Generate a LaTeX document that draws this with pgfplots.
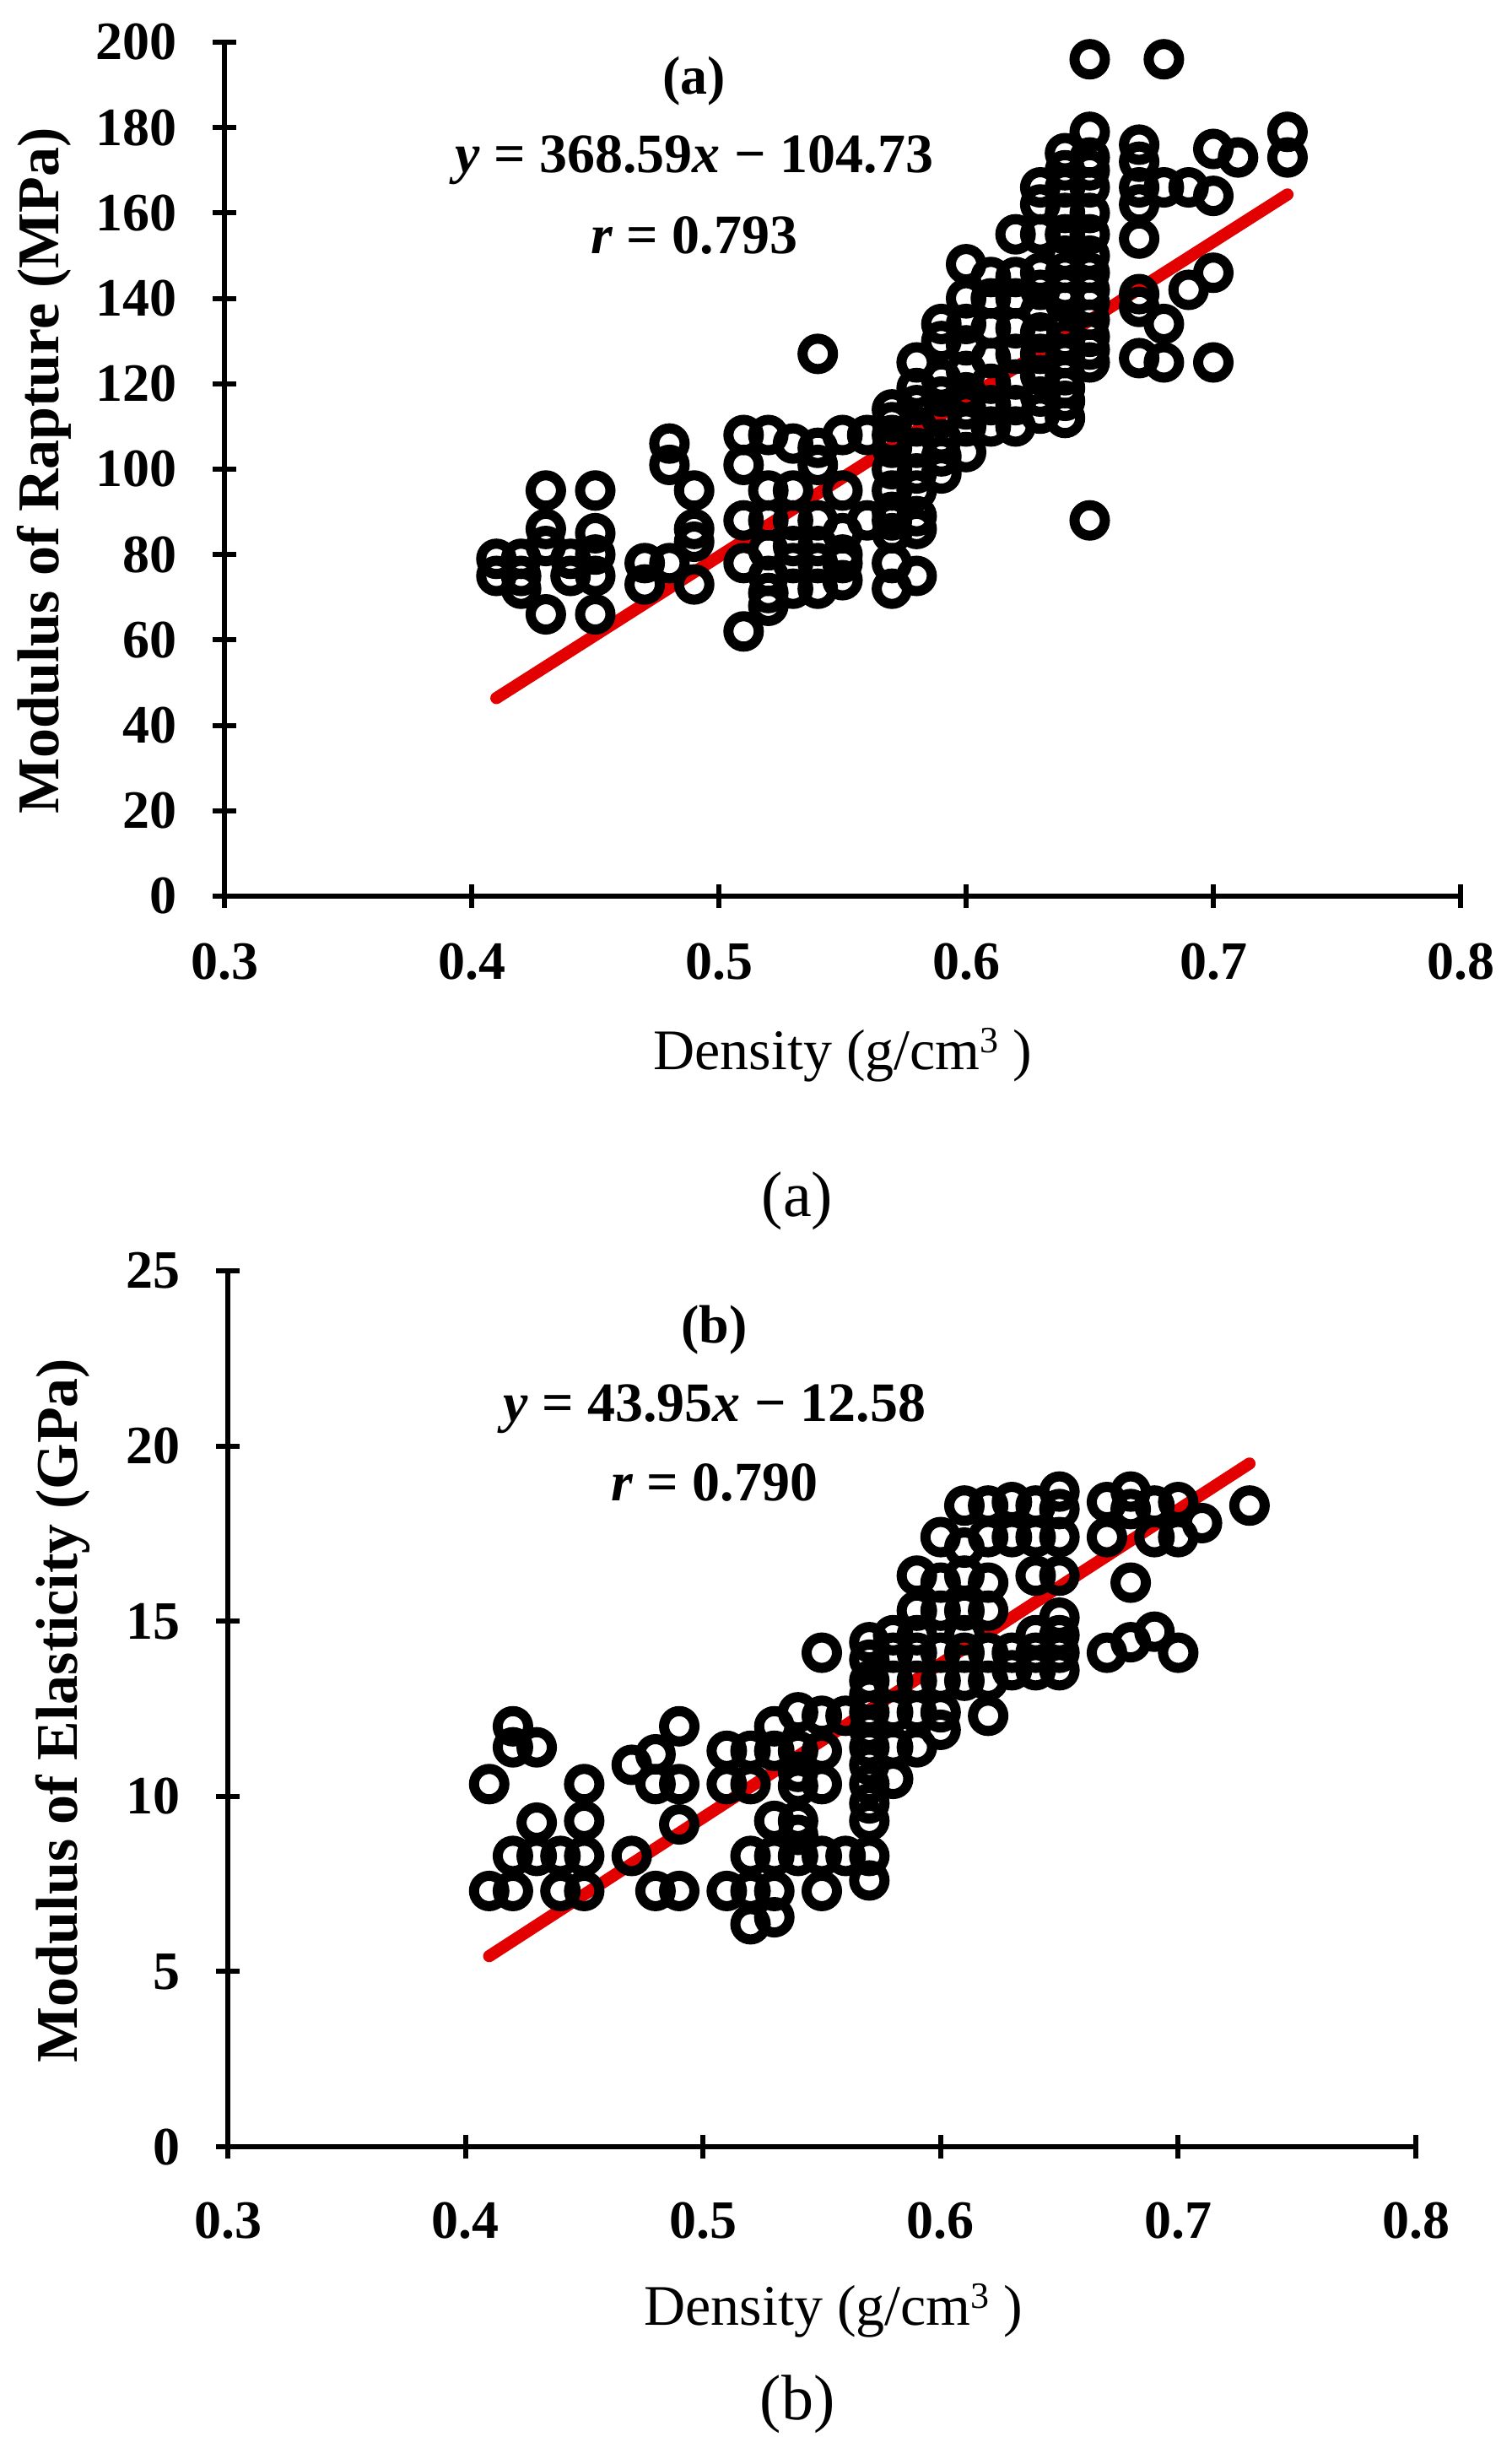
\documentclass[border=0pt]{standalone}
\usepackage{fontspec}
\setmainfont{Liberation Serif}
\usepackage{pgfplots}
\pgfplotsset{compat=1.18}
\definecolor{fitred}{RGB}{226,0,0}
\newcommand{\cube}{\raisebox{0.3em}{\fontsize{11}{11}\selectfont 3}}
\pgfplotsset{
  mystyle/.style={
    scale only axis,
    axis x line*=bottom, axis y line*=left,
    axis line style={line width=1.5pt, black},
    tick style={line width=1.5pt, black},
    major tick length=7pt,
    tick align=center,
    xmin=0.3, xmax=0.8,
    xtick={0.3,0.4,0.5,0.6,0.7,0.8},
    xticklabels={0.3,0.4,0.5,0.6,0.7,0.8},
    tick label style={font=\fontsize{16}{16}\selectfont\bfseries},
    /pgf/number format/assume math mode=true,
    yticklabel style={xshift=-7pt},
    clip=false,
  },
  pts/.style={only marks, mark=o, mark size=4.5pt, mark options={line width=3pt, draw=black}},
  fit/.style={no marks, line width=3.6pt, color=fitred, line cap=round},
}
\begin{document}
\begin{tikzpicture}
\useasboundingbox (0,0) rectangle (447.75pt,-730pt);
% ---------------- (a) ----------------
\begin{axis}[mystyle,
  at={(66.5pt,-265.5pt)}, anchor=south west,
  width=366.25pt, height=253pt,
  ymin=0, ymax=200, ytick={0,20,...,200},
  xticklabel style={yshift=-7pt},
]
\addplot[pts] table[row sep=\\] {
x y\\
0.41 79\\ 0.41 75\\
0.42 79\\ 0.42 75\\ 0.42 72\\
0.43 95\\ 0.43 86\\ 0.43 82\\ 0.43 66\\
0.44 79\\ 0.44 75\\
0.45 95\\ 0.45 85\\ 0.45 80\\ 0.45 75\\ 0.45 66\\
0.47 78\\ 0.47 73\\
0.48 106\\ 0.48 101\\ 0.48 78\\
0.49 95\\ 0.49 86\\ 0.49 83\\ 0.49 73\\
0.51 108\\ 0.51 101\\ 0.51 88\\ 0.51 78\\ 0.51 62\\
0.52 108\\ 0.52 95\\ 0.52 88\\ 0.52 81\\ 0.52 75\\ 0.52 71\\ 0.52 68\\
0.53 106\\ 0.53 95\\ 0.53 88\\ 0.53 82\\ 0.53 78\\ 0.53 72\\
0.54 127\\ 0.54 105\\ 0.54 101\\ 0.54 88\\ 0.54 82\\ 0.54 78\\ 0.54 72\\
0.55 108\\ 0.55 95\\ 0.55 85\\ 0.55 80\\ 0.55 78\\ 0.55 74\\
0.56 108\\ 0.56 88\\
0.57 114\\ 0.57 111\\ 0.57 108\\ 0.57 105\\ 0.57 100\\ 0.57 95\\ 0.57 90\\ 0.57 88\\ 0.57 85\\ 0.57 78\\ 0.57 72\\
0.58 125\\ 0.58 119\\ 0.58 115\\ 0.58 110\\ 0.58 105\\ 0.58 99\\ 0.58 95\\ 0.58 89\\ 0.58 86\\ 0.58 75\\
0.59 134\\ 0.59 130\\ 0.59 121\\ 0.59 117\\ 0.59 112\\ 0.59 107\\ 0.59 103\\ 0.59 99\\
0.60 148\\ 0.60 140\\ 0.60 134\\ 0.60 129\\ 0.60 123\\ 0.60 118\\ 0.60 114\\ 0.60 110\\ 0.60 104\\
0.61 145\\ 0.61 140\\ 0.61 133\\ 0.61 126\\ 0.61 120\\ 0.61 115\\ 0.61 110\\
0.62 155\\ 0.62 145\\ 0.62 140\\ 0.62 133\\ 0.62 127\\ 0.62 121\\ 0.62 115\\ 0.62 110\\
0.63 166\\ 0.63 162\\ 0.63 155\\ 0.63 146\\ 0.63 142\\ 0.63 137\\ 0.63 132\\ 0.63 127\\ 0.63 122\\ 0.63 117\\ 0.63 113\\
0.64 174\\ 0.64 170\\ 0.64 166\\ 0.64 160\\ 0.64 155\\ 0.64 150\\ 0.64 146\\ 0.64 142\\ 0.64 139\\ 0.64 134\\ 0.64 130\\ 0.64 126\\ 0.64 122\\ 0.64 119\\ 0.64 116\\ 0.64 112\\
0.65 196\\ 0.65 179\\ 0.65 173\\ 0.65 170\\ 0.65 166\\ 0.65 160\\ 0.65 155\\ 0.65 150\\ 0.65 146\\ 0.65 142\\ 0.65 139\\ 0.65 135\\ 0.65 131\\ 0.65 128\\ 0.65 125\\ 0.65 88\\
0.67 176\\ 0.67 172\\ 0.67 166\\ 0.67 162\\ 0.67 154\\ 0.67 141\\ 0.67 138\\ 0.67 126\\
0.68 196\\ 0.68 166\\ 0.68 134\\ 0.68 125\\
0.69 166\\ 0.69 142\\
0.70 175\\ 0.70 164\\ 0.70 146\\ 0.70 125\\
0.71 173\\
0.73 179\\ 0.73 173\\
};
\addplot[fit] coordinates {(0.41,46.39) (0.73,164.34)};
\node[font=\fontsize{16}{16}\selectfont\bfseries] at (axis cs:0.49,190.8) {(a)};
\node[font=\fontsize{16.5}{16.5}\selectfont\bfseries] at (axis cs:0.49,172.4) {\textit{y} = 368.59\textit{x} − 104.73};
\node[font=\fontsize{16.5}{16.5}\selectfont\bfseries] at (axis cs:0.49,154.8) {\textit{r} = 0.793};
\end{axis}
\node[rotate=90, font=\fontsize{17.5}{17.5}\selectfont\bfseries] at (13pt,-139.5pt) {Modulus of Rapture (MPa)};
\node[font=\fontsize{17}{17}\selectfont] at (249.75pt,-312.5pt) {Density (g/cm\cube\ )};
\node[font=\fontsize{19}{19}\selectfont] at (236.25pt,-355.75pt) {(a)};
% ---------------- (b) ----------------
\begin{axis}[mystyle,
  at={(67.5pt,-636pt)}, anchor=south west,
  width=352pt, height=259.5pt,
  ymin=0, ymax=25, ytick={0,5,...,25},
  xticklabel style={yshift=-9.5pt},
]
\addplot[pts] table[row sep=\\] {
x y\\
0.41 10.35\\ 0.41 7.3\\
0.42 12.0\\ 0.42 11.4\\ 0.42 8.3\\ 0.42 7.3\\
0.43 11.4\\ 0.43 9.25\\ 0.43 8.3\\
0.44 8.3\\ 0.44 7.3\\
0.45 10.35\\ 0.45 9.3\\ 0.45 8.3\\ 0.45 7.3\\
0.47 10.9\\ 0.47 8.3\\
0.48 11.2\\ 0.48 10.35\\ 0.48 7.3\\
0.49 12.0\\ 0.49 10.35\\ 0.49 9.2\\ 0.49 7.3\\
0.51 11.3\\ 0.51 10.35\\ 0.51 7.3\\
0.52 11.3\\ 0.52 10.35\\ 0.52 8.3\\ 0.52 7.3\\ 0.52 6.35\\
0.53 12.0\\ 0.53 11.3\\ 0.53 9.3\\ 0.53 8.3\\ 0.53 7.3\\ 0.53 6.55\\
0.54 12.4\\ 0.54 11.3\\ 0.54 10.7\\ 0.54 10.3\\ 0.54 9.3\\ 0.54 8.9\\ 0.54 8.3\\
0.55 14.1\\ 0.55 12.3\\ 0.55 11.3\\ 0.55 10.35\\ 0.55 8.3\\ 0.55 7.3\\
0.56 12.3\\ 0.56 8.3\\
0.57 14.4\\ 0.57 13.9\\ 0.57 13.3\\ 0.57 12.9\\ 0.57 12.4\\ 0.57 11.9\\ 0.57 11.4\\ 0.57 10.9\\ 0.57 10.35\\ 0.57 9.8\\ 0.57 9.3\\ 0.57 8.3\\ 0.57 7.6\\
0.58 14.6\\ 0.58 14.1\\ 0.58 13.3\\ 0.58 12.4\\ 0.58 11.4\\ 0.58 10.5\\
0.59 16.3\\ 0.59 15.3\\ 0.59 14.6\\ 0.59 14.1\\ 0.59 13.3\\ 0.59 12.4\\ 0.59 11.4\\
0.60 17.4\\ 0.60 16.1\\ 0.60 15.3\\ 0.60 14.1\\ 0.60 13.3\\ 0.60 12.4\\ 0.60 11.9\\
0.61 18.3\\ 0.61 17.1\\ 0.61 16.3\\ 0.61 15.3\\ 0.61 14.6\\ 0.61 14.1\\ 0.61 13.3\\
0.62 18.3\\ 0.62 17.4\\ 0.62 16.1\\ 0.62 15.3\\ 0.62 14.1\\ 0.62 13.3\\ 0.62 12.3\\
0.63 18.4\\ 0.63 17.4\\ 0.63 14.1\\ 0.63 13.6\\
0.64 18.3\\ 0.64 17.4\\ 0.64 16.3\\ 0.64 14.6\\ 0.64 14.1\\ 0.64 13.6\\
0.65 18.7\\ 0.65 18.2\\ 0.65 17.4\\ 0.65 16.3\\ 0.65 15.1\\ 0.65 14.6\\ 0.65 14.1\\ 0.65 13.6\\
0.67 18.4\\ 0.67 17.4\\ 0.67 14.1\\
0.68 18.7\\ 0.68 18.2\\ 0.68 16.1\\ 0.68 14.4\\
0.69 18.3\\ 0.69 17.4\\ 0.69 14.7\\
0.70 18.4\\ 0.70 17.4\\ 0.70 14.1\\
0.71 17.8\\
0.73 18.3\\
};
\addplot[fit] coordinates {(0.41,5.44) (0.73,19.50)};
\node[font=\fontsize{16}{16}\selectfont\bfseries] at (axis cs:0.5048,23.3) {(b)};
\node[font=\fontsize{16.5}{16.5}\selectfont\bfseries] at (axis cs:0.5048,21.06) {\textit{y} = 43.95\textit{x} − 12.58};
\node[font=\fontsize{16.5}{16.5}\selectfont\bfseries] at (axis cs:0.5048,18.95) {\textit{r} = 0.790};
\end{axis}
\node[rotate=90, font=\fontsize{17.5}{17.5}\selectfont\bfseries] at (18.5pt,-506.75pt) {Modulus of Elasticity (GPa)};
\node[font=\fontsize{17}{17}\selectfont] at (247pt,-684.5pt) {Density (g/cm\cube\ )};
\node[font=\fontsize{19}{19}\selectfont] at (236.25pt,-712.25pt) {(b)};
\end{tikzpicture}
\end{document}
